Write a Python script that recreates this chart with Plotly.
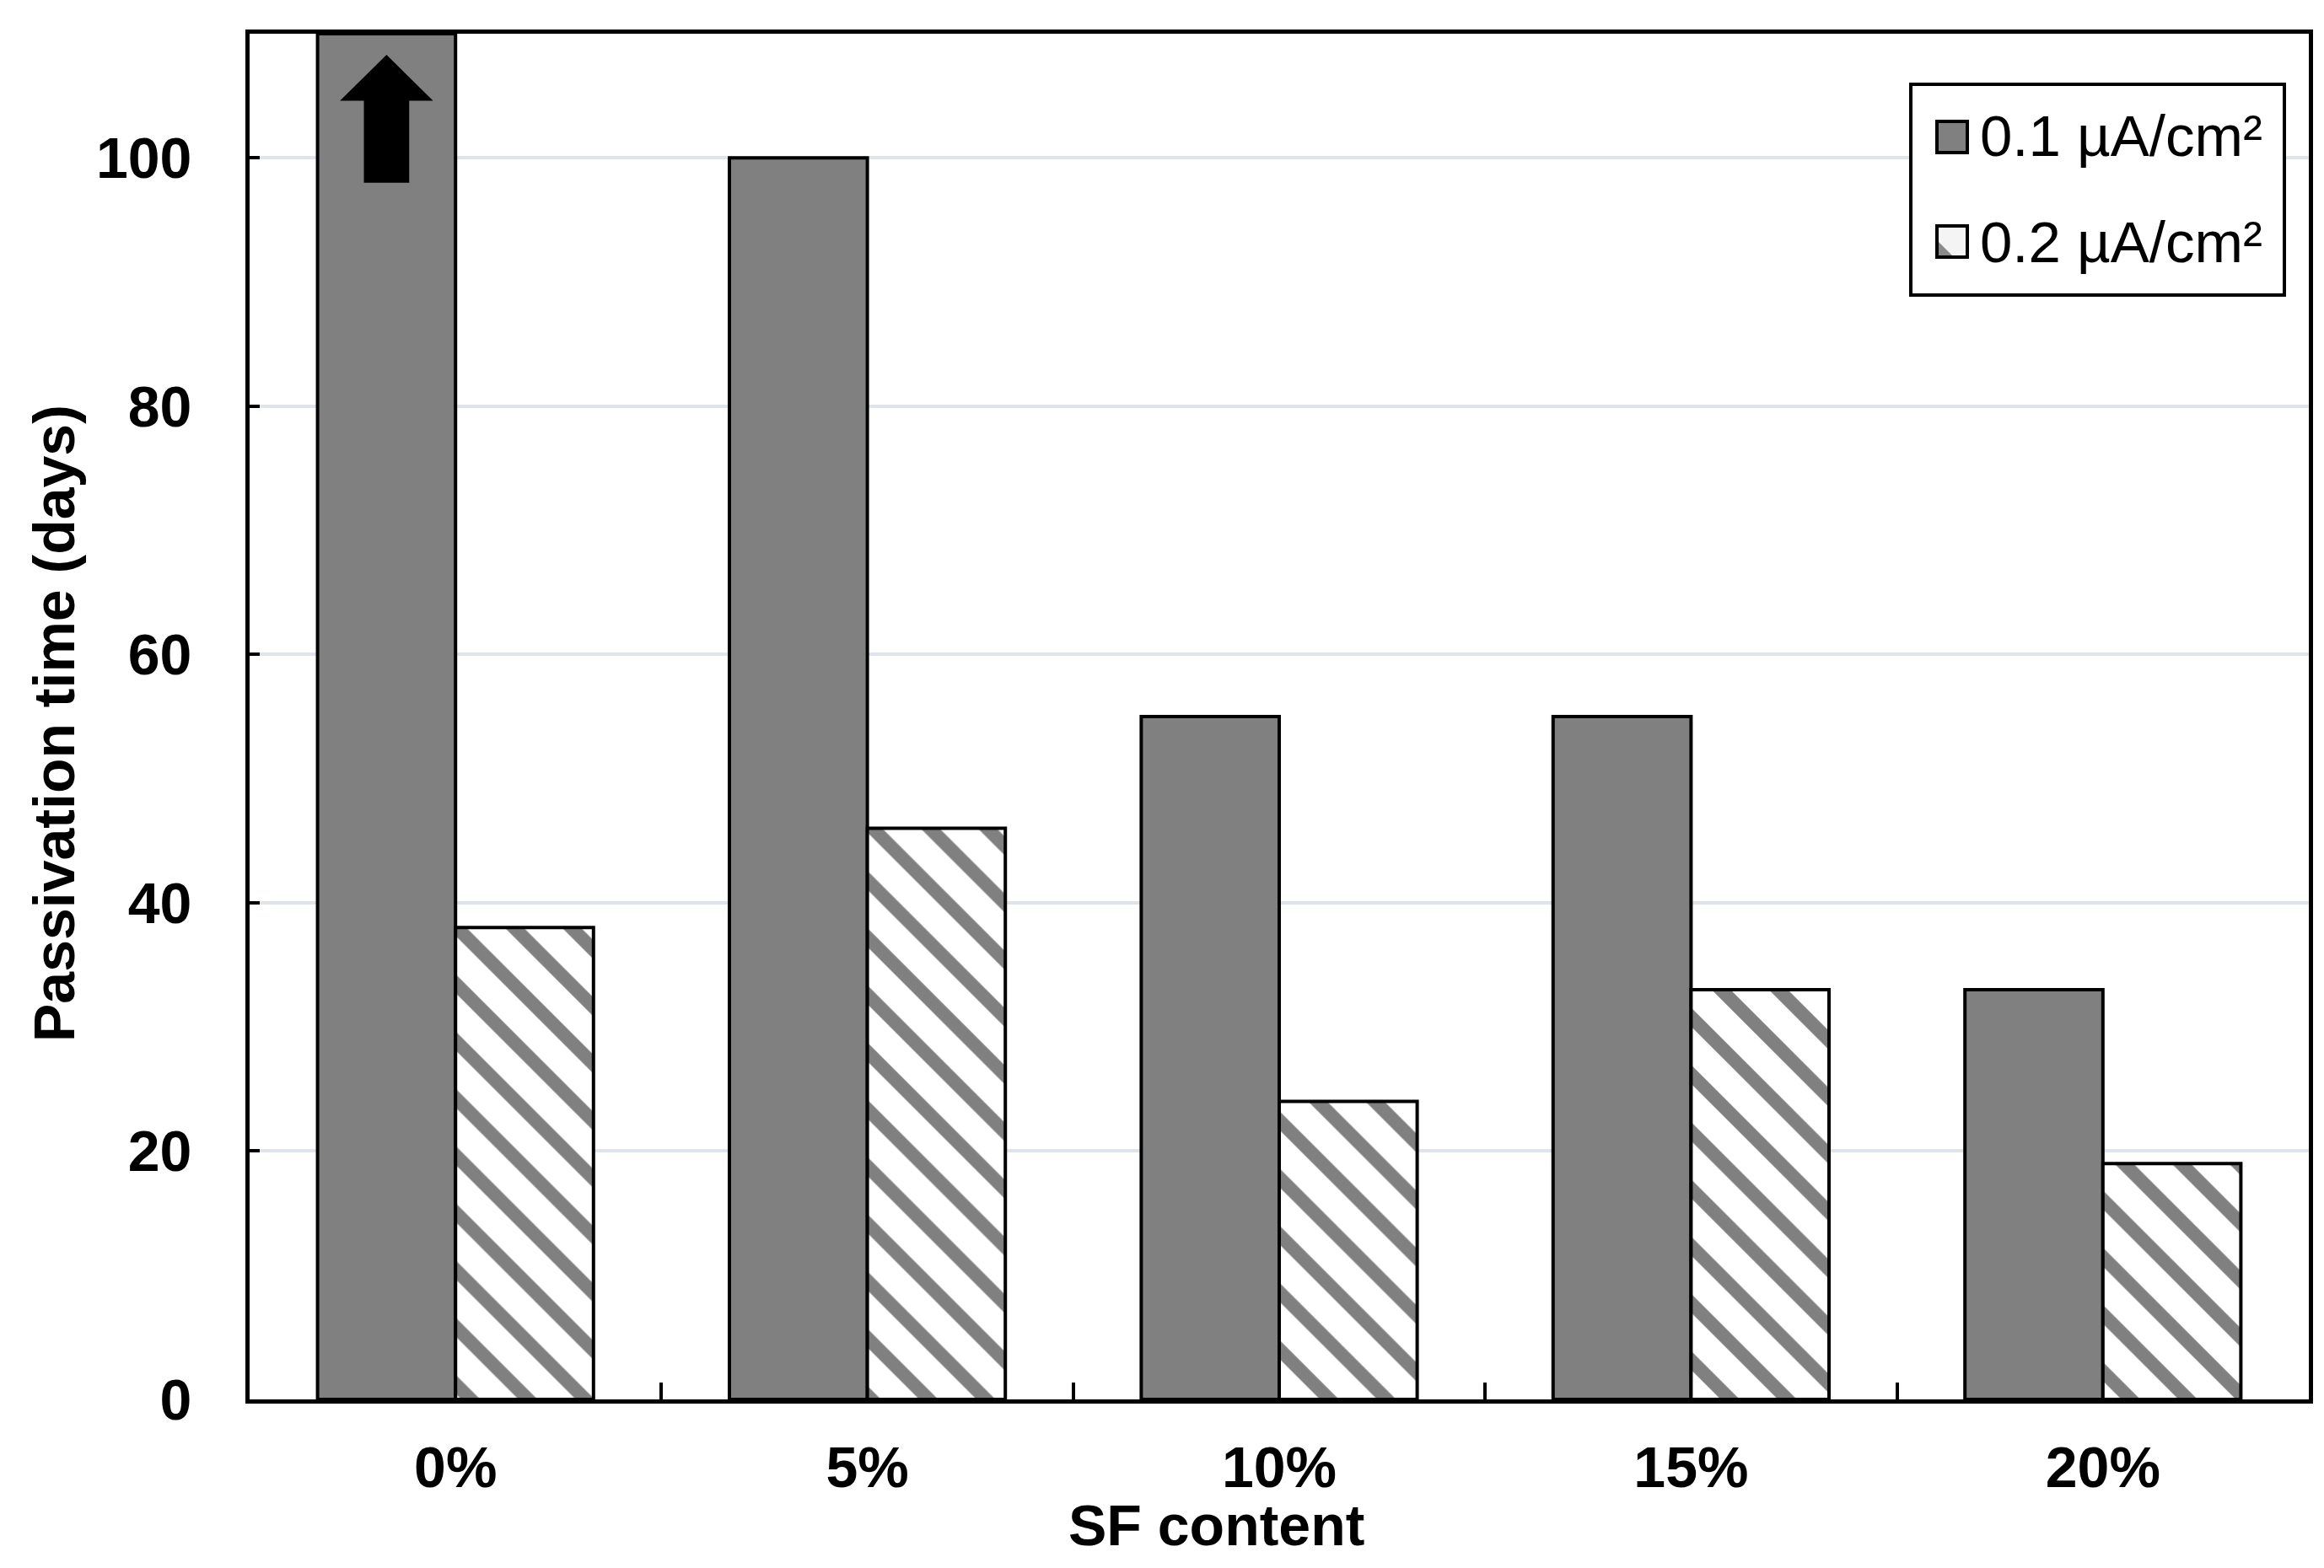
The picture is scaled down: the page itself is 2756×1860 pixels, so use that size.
import plotly.graph_objects as go

# ---- data ----
categories = ["0%", "5%", "10%", "15%", "20%"]
series_a_name = "0.1 µA/cm²"
series_b_name = "0.2 µA/cm²"
series_a = [110, 100, 55, 55, 33]   # 0% bar exceeds the axis (arrow)
series_b = [38, 46, 24, 33, 19]
y_ticks = [0, 20, 40, 60, 80, 100]

W, H = 2756, 1860
L, R, T, B = 288, 26, 32, 208
FONT = "Liberation Sans, Arial, sans-serif"
BARGAP = 0.33

fig = go.Figure()
fig.add_trace(go.Bar(
    x=categories, y=series_a, name=series_a_name,
    marker=dict(color="#808080", line=dict(color="black", width=4)),
    showlegend=False,
))
fig.add_trace(go.Bar(
    x=categories, y=series_b, name=series_b_name,
    marker=dict(color="white", line=dict(color="black", width=4),
                pattern=dict(shape="\\", fgcolor="#808080", bgcolor="white",
                             fgopacity=1, size=48, solidity=0.33,
                             fillmode="replace")),
    showlegend=False,
))
# helper invisible trace on numeric overlay axis (for the arrow shape)
fig.add_trace(go.Scatter(x=[-0.5, 4.5], y=[0, 0], mode="none", xaxis="x2",
                         hoverinfo="skip", showlegend=False))

# block arrow inside the first (clipped) bar
bw = (1 - BARGAP) / 2
cx = 0 - bw / 2
head_hw, stem_hw = 0.113, 0.055
tip, shoulder, bottom = 108.3, 104.6, 98.0
path = (f"M {cx - stem_hw} {bottom} L {cx + stem_hw} {bottom} L {cx + stem_hw} {shoulder} "
        f"L {cx + head_hw} {shoulder} L {cx} {tip} L {cx - head_hw} {shoulder} "
        f"L {cx - stem_hw} {shoulder} Z")
shapes = [dict(type="path", path=path, xref="x2", yref="y",
               fillcolor="black", line=dict(width=0))]

# custom legend (paper coordinates derived from pixel positions)
pw = W - L - R
ph = H - T - B
def px(x): return (x - L) / pw
def py(y): return (H - B - y) / ph

shapes.append(dict(type="rect", xref="paper", yref="paper",
                   x0=px(2258), x1=px(2701), y0=py(342), y1=py(92),
                   fillcolor="white", line=dict(color="black", width=4)))
shapes.append(dict(type="rect", xref="paper", yref="paper",
                   x0=px(2289), x1=px(2325), y0=py(173), y1=py(136),
                   fillcolor="#808080", line=dict(color="black", width=4)))
shapes.append(dict(type="rect", xref="paper", yref="paper",
                   x0=px(2289), x1=px(2325), y0=py(297), y1=py(260),
                   fillcolor="#f4f4f4", line=dict(color="black", width=4)))
shapes.append(dict(type="path", xref="paper", yref="paper",
                   path=f"M {px(2291)} {py(295)} L {px(2291)} {py(279)} L {px(2307)} {py(295)} Z",
                   fillcolor="#8a8a8a", line=dict(width=0)))

annotations = [
    dict(text=series_a_name, xref="paper", yref="paper", x=px(2338), y=py(154),
         xanchor="left", yanchor="middle", showarrow=False,
         font=dict(family=FONT, size=69, color="black")),
    dict(text=series_b_name, xref="paper", yref="paper", x=px(2338), y=py(279),
         xanchor="left", yanchor="middle", showarrow=False,
         font=dict(family=FONT, size=69, color="black")),
    dict(text="SF content", xref="paper", yref="paper", x=px(1434), y=py(1801),
         xanchor="center", yanchor="middle", showarrow=False,
         font=dict(family=FONT, size=68, color="black", weight="bold")),
    dict(text="Passivation time (days)", xref="paper", yref="paper",
         x=px(56), y=py(850), textangle=-90,
         xanchor="center", yanchor="middle", showarrow=False,
         font=dict(family=FONT, size=68, color="black", weight="bold")),
]

fig.update_layout(
    width=W, height=H,
    margin=dict(l=L, r=R, t=T, b=B),
    paper_bgcolor="white", plot_bgcolor="white",
    barmode="group", bargap=BARGAP, bargroupgap=0,
    shapes=shapes, annotations=annotations,
    font=dict(family=FONT, color="black"),
    xaxis=dict(
        type="category", tickson="boundaries", ticks="inside", ticklen=20,
        tickwidth=4, tickcolor="black",
        showline=True, linecolor="black", linewidth=5, mirror=True,
        showgrid=False,
        tickfont=dict(family=FONT, size=68, color="black", weight="bold"),
        ticklabelstandoff=17,
    ),
    xaxis2=dict(overlaying="x", range=[-0.5, 4.5], visible=False),
    yaxis=dict(
        range=[0, 110], tickvals=y_ticks, ticks="inside", ticklen=12,
        tickwidth=4, tickcolor="black",
        showline=True, linecolor="black", linewidth=5, mirror=True,
        showgrid=True, gridcolor="#dfe3ea", gridwidth=4, zeroline=False,
        tickfont=dict(family=FONT, size=68, color="black", weight="bold"),
        ticklabelstandoff=50,
    ),
)

fig.write_html("out.html")
